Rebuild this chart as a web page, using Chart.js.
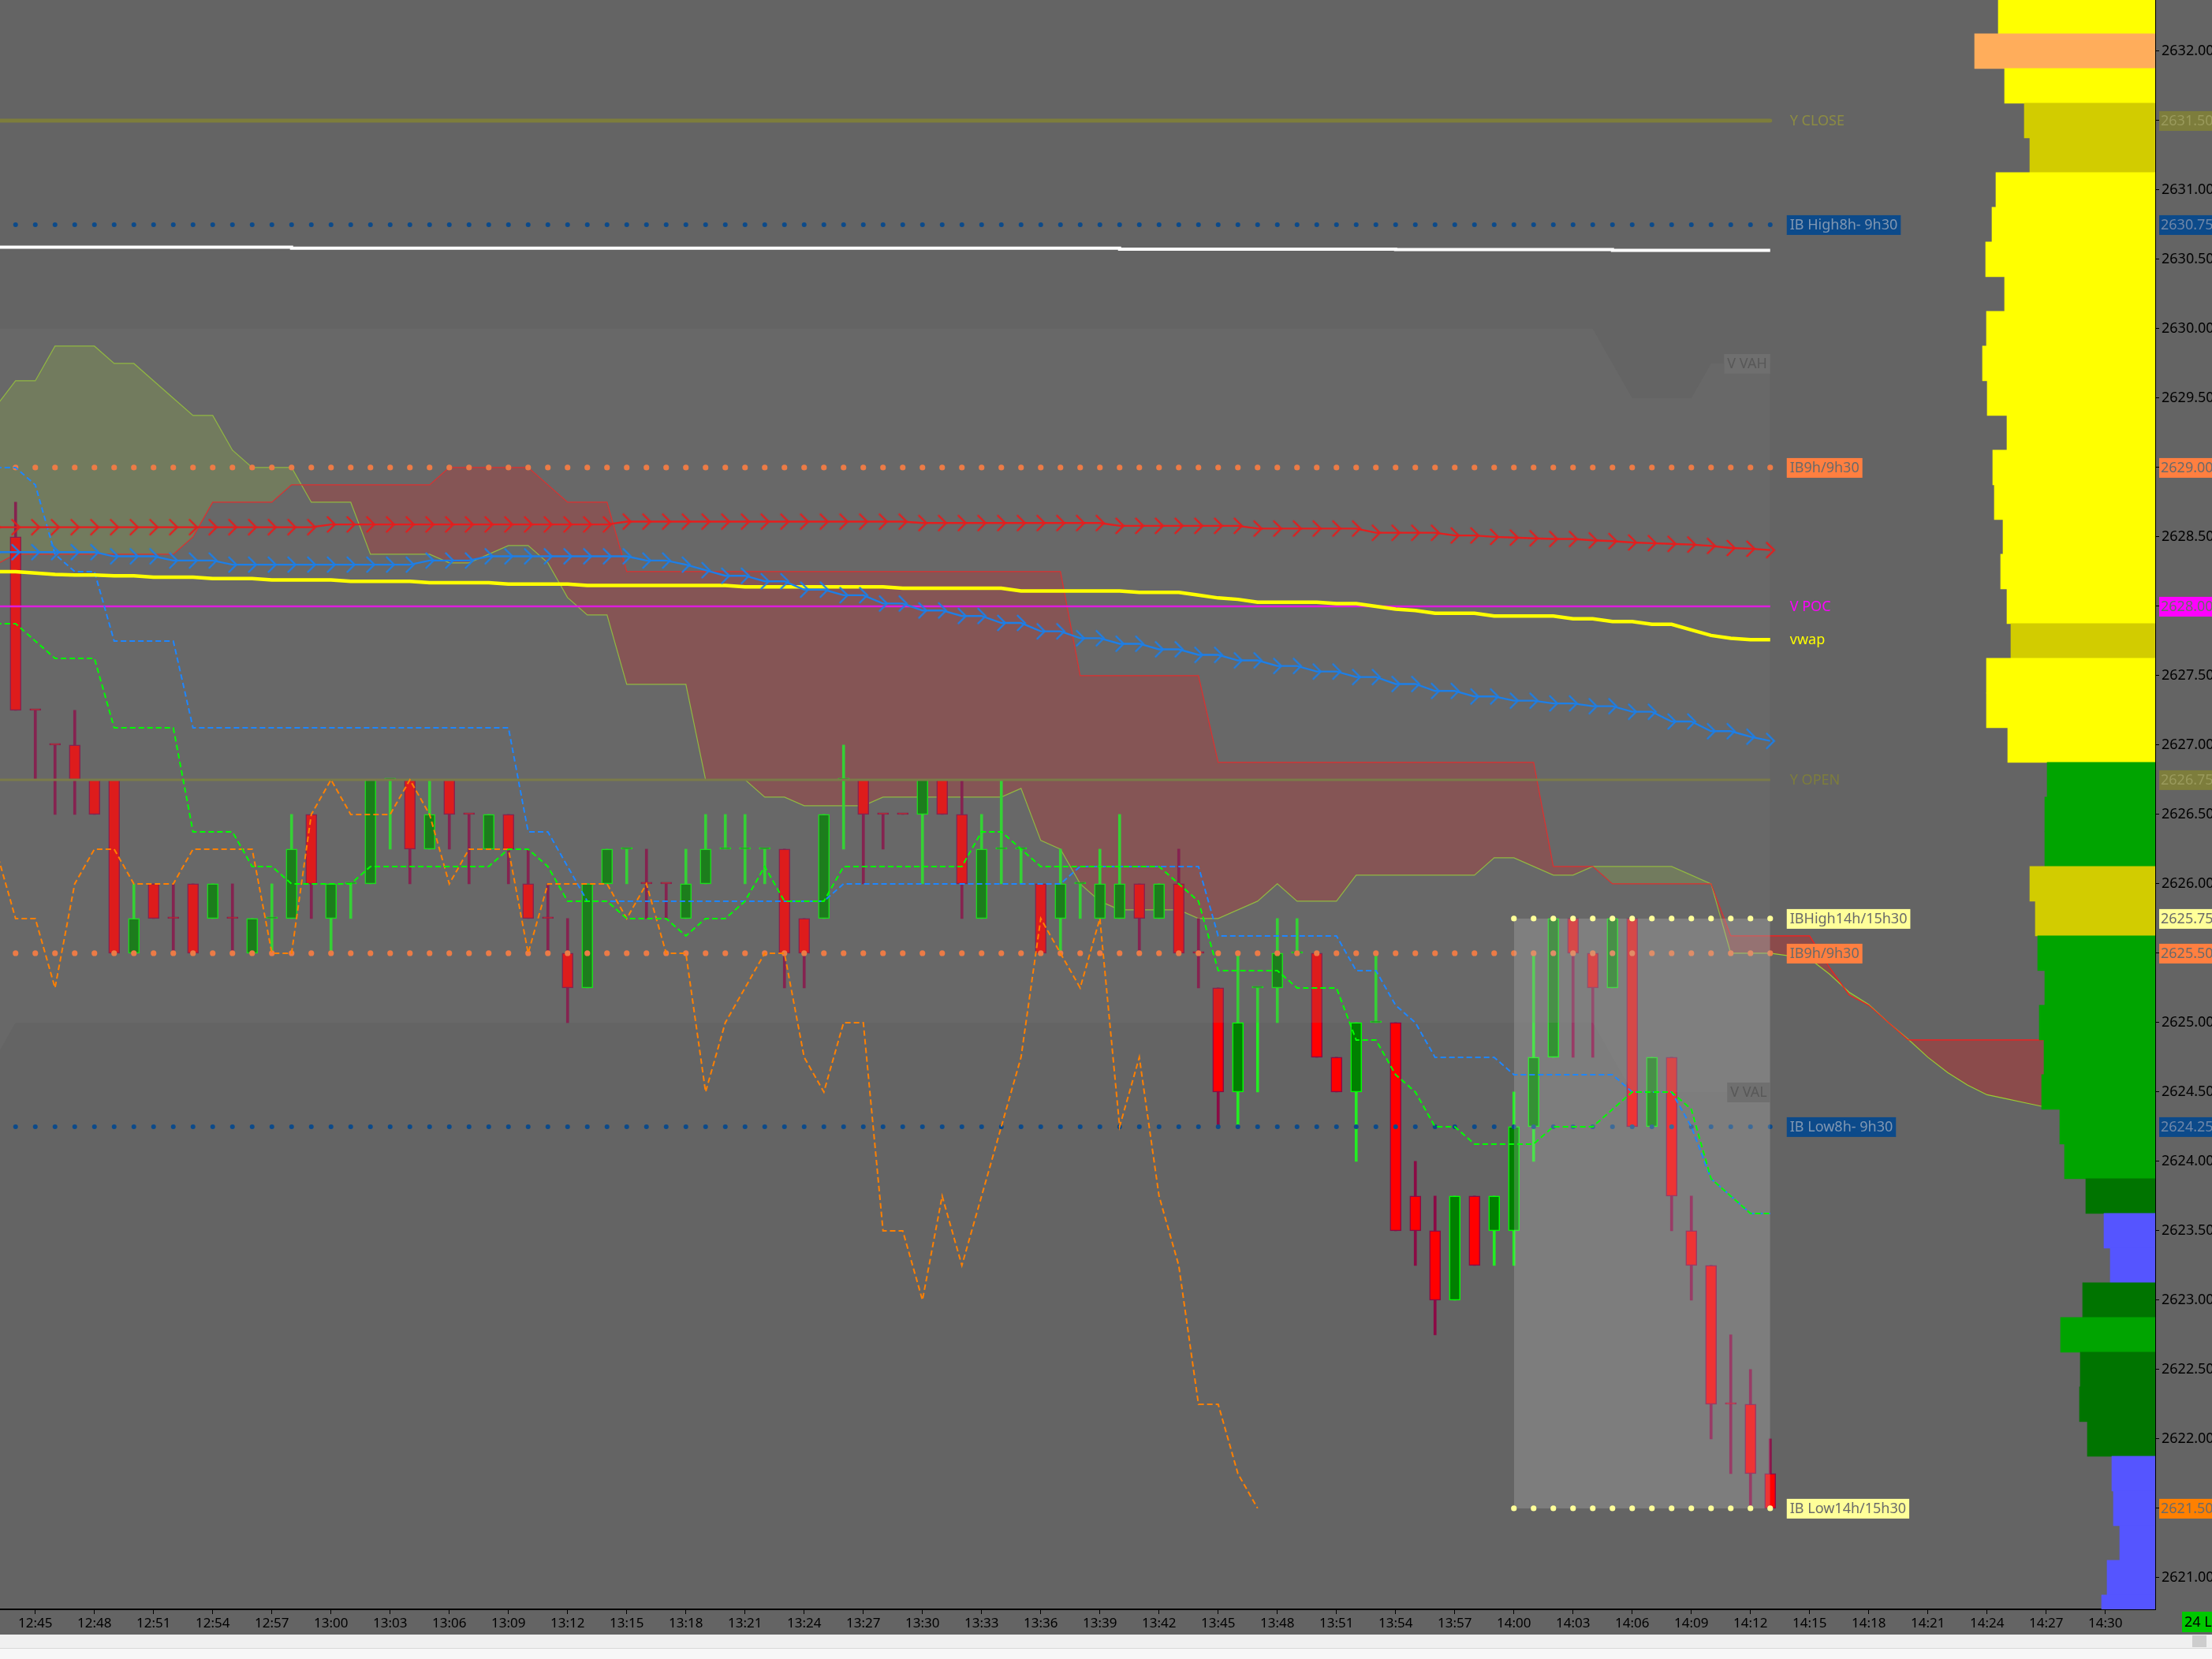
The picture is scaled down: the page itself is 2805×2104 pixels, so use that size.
<!DOCTYPE html>
<html>
<head>
<meta charset="utf-8">
<script src="https://cdn.jsdelivr.net/npm/chart.js@4.4.1/dist/chart.umd.min.js"></script>
<style>
  html, body { margin: 0; padding: 0; background: #f0f0f0; }
  #wrap { position: relative; width: 2805px; height: 2073px; background: #646464; }
  #wrap canvas { position: absolute; left: 0; top: 0; }
  #strip { position: relative; width: 2805px; height: 17px; background: #f0f0f0; border-bottom: 1px solid #d9d9d9; }
  #strip .knob { position: absolute; left: 2780px; top: 1px; width: 18px; height: 15px; background: #cdcdcd; }
  #foot { width: 2805px; height: 13px; background: #f7f7f7; }
</style>
</head>
<body>
<div id="wrap">
  <canvas id="main" width="2805" height="2073"></canvas>
  <canvas id="profile" width="2805" height="2073"></canvas>
</div>
<div id="strip"><div class="knob"></div></div>
<div id="foot"></div>
<script>
// 1-minute bars, bar 0 = 12:44, last bar 89 = 14:13
const START_MIN = 12 * 60 + 44;

const timeTicks = ['12:45', '12:48', '12:51', '12:54', '12:57', '13:00', '13:03', '13:06', '13:09', '13:12',
  '13:15', '13:18', '13:21', '13:24', '13:27', '13:30', '13:33', '13:36', '13:39', '13:42',
  '13:45', '13:48', '13:51', '13:54', '13:57', '14:00', '14:03', '14:06', '14:09', '14:12',
  '14:15', '14:18', '14:21', '14:24', '14:27', '14:30'];

const priceTicks = [2621.0, 2621.5, 2622.0, 2622.5, 2623.0, 2623.5, 2624.0, 2624.5, 2625.0, 2625.5, 2626.0,
  2626.5, 2627.0, 2627.5, 2628.0, 2628.5, 2629.0, 2629.5, 2630.0, 2630.5, 2631.0, 2631.5, 2632.0];

// candles
const opens = [
  2628.5, 2627.25, 2627.0, 2627.0, 2626.75, 2626.75, 2625.5, 2626.0, 2625.75, 2626.0,
  2625.75, 2625.75, 2625.5, 2625.75, 2625.75, 2626.5, 2625.75, 2626.0, 2626.0, 2626.75,
  2626.75, 2626.25, 2626.75, 2626.5, 2626.25, 2626.5, 2626.0, 2625.75, 2625.5, 2625.25,
  2626.0, 2626.25, 2626.0, 2626.0, 2625.75, 2626.0, 2626.25, 2626.25, 2626.25, 2626.25,
  2625.75, 2625.75, 2626.75, 2626.75, 2626.5, 2626.5, 2626.5, 2626.75, 2626.5, 2625.75,
  2626.25, 2626.25, 2626.0, 2625.75, 2626.0, 2625.75, 2625.75, 2626.0, 2625.75, 2626.0,
  2625.5, 2625.25, 2624.5, 2625.25, 2625.25, 2625.5, 2625.5, 2624.75, 2624.5, 2625.0,
  2625.0, 2623.75, 2623.5, 2623.0, 2623.75, 2623.5, 2623.5, 2624.25, 2624.75, 2625.75,
  2625.5, 2625.25, 2625.75, 2624.25, 2624.75, 2623.5, 2623.25, 2622.25, 2622.25, 2621.75
];
const highs = [
  2628.75, 2627.25, 2627.0, 2627.25, 2626.75, 2626.75, 2626.0, 2626.0, 2626.0, 2626.0,
  2626.0, 2626.0, 2625.75, 2626.0, 2626.5, 2626.5, 2626.0, 2626.0, 2626.75, 2626.75,
  2626.75, 2626.75, 2626.75, 2626.5, 2626.5, 2626.5, 2626.25, 2626.0, 2625.75, 2626.0,
  2626.25, 2626.25, 2626.25, 2626.0, 2626.25, 2626.5, 2626.5, 2626.5, 2626.25, 2626.25,
  2625.75, 2626.5, 2627.0, 2626.75, 2626.5, 2626.5, 2626.75, 2626.75, 2626.75, 2626.5,
  2626.75, 2626.25, 2626.0, 2626.25, 2626.0, 2626.25, 2626.5, 2626.0, 2626.0, 2626.25,
  2625.75, 2625.25, 2625.5, 2625.25, 2625.75, 2625.75, 2625.5, 2624.75, 2625.0, 2625.5,
  2625.0, 2624.0, 2623.75, 2623.75, 2623.75, 2623.75, 2624.5, 2625.5, 2625.75, 2625.75,
  2625.5, 2625.75, 2625.75, 2624.75, 2624.75, 2623.75, 2623.25, 2622.75, 2622.5, 2622.0
];
const lows = [
  2627.25, 2626.75, 2626.5, 2626.5, 2626.5, 2625.5, 2625.5, 2625.75, 2625.5, 2625.5,
  2625.75, 2625.5, 2625.5, 2625.5, 2625.75, 2625.75, 2625.5, 2625.75, 2626.0, 2626.25,
  2626.0, 2626.25, 2626.25, 2626.0, 2626.25, 2626.0, 2625.75, 2625.5, 2625.0, 2625.25,
  2626.0, 2626.0, 2625.75, 2625.75, 2625.75, 2626.0, 2626.25, 2626.0, 2626.0, 2625.25,
  2625.25, 2625.75, 2626.25, 2626.0, 2626.25, 2626.5, 2626.0, 2626.5, 2625.75, 2625.75,
  2626.0, 2626.0, 2625.5, 2625.5, 2625.75, 2625.75, 2625.75, 2625.5, 2625.75, 2625.5,
  2625.25, 2624.25, 2624.25, 2624.5, 2625.0, 2625.5, 2624.75, 2624.5, 2624.0, 2625.0,
  2623.5, 2623.25, 2622.75, 2623.0, 2623.25, 2623.25, 2623.25, 2624.0, 2624.75, 2624.75,
  2624.75, 2625.25, 2624.25, 2624.25, 2623.5, 2623.0, 2622.0, 2621.75, 2621.5, 2621.5
];
const closes = [
  2627.25, 2627.25, 2627.0, 2626.75, 2626.5, 2625.5, 2625.75, 2625.75, 2625.75, 2625.5,
  2626.0, 2625.75, 2625.75, 2625.75, 2626.25, 2626.0, 2626.0, 2626.0, 2626.75, 2626.75,
  2626.25, 2626.5, 2626.5, 2626.5, 2626.5, 2626.25, 2625.75, 2625.75, 2625.25, 2626.0,
  2626.25, 2626.25, 2626.0, 2626.0, 2626.0, 2626.25, 2626.25, 2626.25, 2626.25, 2625.5,
  2625.5, 2626.5, 2626.75, 2626.5, 2626.5, 2626.5, 2626.75, 2626.5, 2626.0, 2626.25,
  2626.25, 2626.25, 2625.5, 2626.0, 2626.0, 2626.0, 2626.0, 2625.75, 2626.0, 2625.5,
  2625.5, 2624.5, 2625.0, 2625.25, 2625.5, 2625.5, 2624.75, 2624.5, 2625.0, 2625.0,
  2623.5, 2623.5, 2623.0, 2623.75, 2623.25, 2623.75, 2624.25, 2624.75, 2625.75, 2625.5,
  2625.25, 2625.75, 2624.25, 2624.75, 2623.75, 2623.25, 2622.25, 2622.25, 2621.75, 2621.5
];

// indicator series, first value is bar -1 (left edge of the window)
const tenkan = [
  2627.875,
  2627.875, 2627.75, 2627.625, 2627.625, 2627.625, 2627.125, 2627.125, 2627.125, 2627.125, 2626.375,
  2626.375, 2626.375, 2626.125, 2626.125, 2626.0, 2626.0, 2626.0, 2626.0, 2626.125, 2626.125,
  2626.125, 2626.125, 2626.125, 2626.125, 2626.125, 2626.25, 2626.25, 2626.125, 2625.875, 2625.875,
  2625.875, 2625.75, 2625.75, 2625.75, 2625.625, 2625.75, 2625.75, 2625.875, 2626.125, 2625.875,
  2625.875, 2625.875, 2626.125, 2626.125, 2626.125, 2626.125, 2626.125, 2626.125, 2626.125, 2626.375,
  2626.375, 2626.25, 2626.125, 2626.125, 2626.125, 2626.125, 2626.125, 2626.125, 2626.125, 2626.0,
  2625.875, 2625.375, 2625.375, 2625.375, 2625.375, 2625.25, 2625.25, 2625.25, 2624.875, 2624.875,
  2624.625, 2624.5, 2624.25, 2624.25, 2624.125, 2624.125, 2624.125, 2624.125, 2624.25, 2624.25,
  2624.25, 2624.375, 2624.5, 2624.5, 2624.5, 2624.375, 2623.875, 2623.75, 2623.625, 2623.625
];
const kijun = [
  2629.0,
  2629.0, 2628.875, 2628.375, 2628.25, 2628.25, 2627.75, 2627.75, 2627.75, 2627.75, 2627.125,
  2627.125, 2627.125, 2627.125, 2627.125, 2627.125, 2627.125, 2627.125, 2627.125, 2627.125, 2627.125,
  2627.125, 2627.125, 2627.125, 2627.125, 2627.125, 2627.125, 2626.375, 2626.375, 2626.125, 2625.875,
  2625.875, 2625.875, 2625.875, 2625.875, 2625.875, 2625.875, 2625.875, 2625.875, 2625.875, 2625.875,
  2625.875, 2625.875, 2626.0, 2626.0, 2626.0, 2626.0, 2626.0, 2626.0, 2626.0, 2626.0,
  2626.0, 2626.0, 2626.0, 2626.0, 2626.125, 2626.125, 2626.125, 2626.125, 2626.125, 2626.125,
  2626.125, 2625.625, 2625.625, 2625.625, 2625.625, 2625.625, 2625.625, 2625.625, 2625.375, 2625.375,
  2625.125, 2625.0, 2624.75, 2624.75, 2624.75, 2624.75, 2624.625, 2624.625, 2624.625, 2624.625,
  2624.625, 2624.625, 2624.5, 2624.5, 2624.5, 2624.25, 2623.875, 2623.75, 2623.625, 2623.625
];
// cloud, bar -1 .. bar 103 (projected 26 bars ahead)
const spanA = [
  2629.44,
  2629.625, 2629.625, 2629.875, 2629.875, 2629.875, 2629.75, 2629.75, 2629.625, 2629.5, 2629.375,
  2629.375, 2629.125, 2629.0, 2629.0, 2629.0, 2628.75, 2628.75, 2628.75, 2628.375, 2628.375,
  2628.375, 2628.375, 2628.3125, 2628.3125, 2628.375, 2628.4375, 2628.4375, 2628.3125, 2628.0625, 2627.9375,
  2627.9375, 2627.4375, 2627.4375, 2627.4375, 2627.4375, 2626.75, 2626.75, 2626.75, 2626.625, 2626.625,
  2626.5625, 2626.5625, 2626.5625, 2626.5625, 2626.625, 2626.625, 2626.625, 2626.625, 2626.625, 2626.625,
  2626.625, 2626.6875, 2626.3125, 2626.25, 2626.0, 2625.875, 2625.8125, 2625.8125, 2625.8125, 2625.8125,
  2625.75, 2625.75, 2625.8125, 2625.875, 2626.0, 2625.875, 2625.875, 2625.875, 2626.0625, 2626.0625,
  2626.0625, 2626.0625, 2626.0625, 2626.0625, 2626.0625, 2626.1875, 2626.1875, 2626.125, 2626.0625, 2626.0625,
  2626.125, 2626.125, 2626.125, 2626.125, 2626.125, 2626.0625, 2626.0, 2625.5, 2625.5, 2625.5,
  2625.48, 2625.46, 2625.35, 2625.22, 2625.13, 2625.0, 2624.88, 2624.75, 2624.64, 2624.55,
  2624.48, 2624.45, 2624.42, 2624.39
];
const spanB = [
  2628.3,
  2628.375, 2628.375, 2628.375, 2628.375, 2628.375, 2628.375, 2628.375, 2628.375, 2628.375, 2628.5,
  2628.75, 2628.75, 2628.75, 2628.75, 2628.875, 2628.875, 2628.875, 2628.875, 2628.875, 2628.875,
  2628.875, 2628.875, 2629.0, 2629.0, 2629.0, 2629.0, 2629.0, 2628.875, 2628.75, 2628.75,
  2628.75, 2628.25, 2628.25, 2628.25, 2628.25, 2628.25, 2628.25, 2628.25, 2628.25, 2628.25,
  2628.25, 2628.25, 2628.25, 2628.25, 2628.25, 2628.25, 2628.25, 2628.25, 2628.25, 2628.25,
  2628.25, 2628.25, 2628.25, 2628.25, 2627.5, 2627.5, 2627.5, 2627.5, 2627.5, 2627.5,
  2627.5, 2626.875, 2626.875, 2626.875, 2626.875, 2626.875, 2626.875, 2626.875, 2626.875, 2626.875,
  2626.875, 2626.875, 2626.875, 2626.875, 2626.875, 2626.875, 2626.875, 2626.875, 2626.125, 2626.125,
  2626.125, 2626.0, 2626.0, 2626.0, 2626.0, 2626.0, 2626.0, 2625.625, 2625.625, 2625.625,
  2625.625, 2625.625, 2625.4, 2625.2, 2625.125, 2625.0, 2624.875, 2624.875, 2624.875, 2624.875,
  2624.875, 2624.875, 2624.875, 2624.875
];
const vwap = [
  2628.25,
  2628.25, 2628.24, 2628.23, 2628.225, 2628.225, 2628.22, 2628.22, 2628.21, 2628.21, 2628.21,
  2628.20, 2628.20, 2628.20, 2628.19, 2628.19, 2628.19, 2628.19, 2628.18, 2628.18, 2628.18,
  2628.18, 2628.17, 2628.17, 2628.17, 2628.17, 2628.16, 2628.16, 2628.16, 2628.16, 2628.15,
  2628.15, 2628.15, 2628.15, 2628.15, 2628.15, 2628.15, 2628.15, 2628.14, 2628.14, 2628.14,
  2628.14, 2628.14, 2628.14, 2628.14, 2628.14, 2628.13, 2628.13, 2628.13, 2628.13, 2628.13,
  2628.13, 2628.11, 2628.11, 2628.11, 2628.11, 2628.11, 2628.11, 2628.10, 2628.10, 2628.10,
  2628.08, 2628.06, 2628.05, 2628.03, 2628.03, 2628.03, 2628.03, 2628.02, 2628.02, 2628.00,
  2627.98, 2627.97, 2627.95, 2627.95, 2627.95, 2627.93, 2627.93, 2627.93, 2627.93, 2627.91,
  2627.91, 2627.89, 2627.89, 2627.87, 2627.87, 2627.83, 2627.79, 2627.77, 2627.76, 2627.76
];
const redAverage = [
  2628.57,
  2628.57, 2628.57, 2628.57, 2628.57, 2628.57, 2628.57, 2628.57, 2628.57, 2628.57, 2628.57,
  2628.57, 2628.57, 2628.57, 2628.57, 2628.57, 2628.57, 2628.59, 2628.59, 2628.59, 2628.59,
  2628.59, 2628.59, 2628.59, 2628.59, 2628.59, 2628.59, 2628.59, 2628.59, 2628.59, 2628.59,
  2628.59, 2628.61, 2628.61, 2628.61, 2628.61, 2628.61, 2628.61, 2628.61, 2628.61, 2628.61,
  2628.61, 2628.61, 2628.61, 2628.61, 2628.61, 2628.61, 2628.60, 2628.60, 2628.60, 2628.60,
  2628.60, 2628.60, 2628.60, 2628.60, 2628.60, 2628.60, 2628.58, 2628.58, 2628.58, 2628.58,
  2628.58, 2628.58, 2628.58, 2628.56, 2628.56, 2628.56, 2628.56, 2628.56, 2628.56, 2628.53,
  2628.53, 2628.53, 2628.53, 2628.51, 2628.51, 2628.50, 2628.495, 2628.49, 2628.485, 2628.485,
  2628.475, 2628.47, 2628.46, 2628.455, 2628.45, 2628.445, 2628.435, 2628.42, 2628.415, 2628.405
];
const blueAverage = [
  2628.39,
  2628.39, 2628.39, 2628.39, 2628.39, 2628.39, 2628.36, 2628.36, 2628.36, 2628.33, 2628.33,
  2628.33, 2628.30, 2628.30, 2628.30, 2628.30, 2628.30, 2628.30, 2628.30, 2628.30, 2628.30,
  2628.30, 2628.33, 2628.33, 2628.33, 2628.36, 2628.36, 2628.36, 2628.36, 2628.36, 2628.36,
  2628.36, 2628.36, 2628.33, 2628.33, 2628.30, 2628.26, 2628.22, 2628.22, 2628.18, 2628.18,
  2628.12, 2628.12, 2628.08, 2628.08, 2628.02, 2628.02, 2627.97, 2627.97, 2627.93, 2627.93,
  2627.88, 2627.88, 2627.82, 2627.82, 2627.77, 2627.77, 2627.73, 2627.73, 2627.69, 2627.69,
  2627.65, 2627.65, 2627.61, 2627.61, 2627.57, 2627.57, 2627.53, 2627.53, 2627.49, 2627.49,
  2627.44, 2627.44, 2627.39, 2627.39, 2627.35, 2627.35, 2627.32, 2627.32, 2627.30, 2627.30,
  2627.28, 2627.28, 2627.24, 2627.24, 2627.17, 2627.17, 2627.10, 2627.10, 2627.06, 2627.03
];
const whiteBars = [-1, 14, 56, 70, 81, 88, 89];
const whiteLevel = [2630.593, 2630.587, 2630.58, 2630.574, 2630.57, 2630.565, 2630.565];

// value area of the volume profile
const vaBars = [-1, 0, 80, 82, 85, 86, 89];
const vaHigh = [2630.0, 2630.0, 2630.0, 2629.5, 2629.5, 2629.75, 2629.75];
const vaLow = [2624.75, 2625.0, 2625.0, 2624.5, 2624.5, 2624.5, 2624.5];

// reference levels
const Y_CLOSE = 2631.5, Y_OPEN = 2626.75, V_POC = 2628.0;
const IB8_HIGH = 2630.75, IB8_LOW = 2624.25;
const IB9_HIGH = 2629.0, IB9_LOW = 2625.5;
const IB14_HIGH = 2625.75, IB14_LOW = 2621.5;
const IB14_FROM = 76, LAST_BAR = 89;

// volume profile (relative volume per 0.25 tick)
const profilePrices = [2632.25, 2632.0, 2631.75, 2631.5, 2631.25, 2631.0, 2630.75, 2630.5, 2630.25, 2630.0,
  2629.75, 2629.5, 2629.25, 2629.0, 2628.75, 2628.5, 2628.25, 2628.0, 2627.75, 2627.5,
  2627.25, 2627.0, 2626.75, 2626.5, 2626.25, 2626.0, 2625.75, 2625.5, 2625.25, 2625.0,
  2624.75, 2624.5, 2624.25, 2624.0, 2623.75, 2623.5, 2623.25, 2623.0, 2622.75, 2622.5,
  2622.25, 2622.0, 2621.75, 2621.5, 2621.25, 2621.0, 2620.75];
const profileVolume = [199, 229, 191, 166, 159, 202, 207, 215, 191, 214,
  219, 213, 188, 206, 204, 193, 196, 188, 183, 214,
  214, 187, 137, 140, 140, 159, 152, 149, 140, 147,
  141, 144, 121, 115, 88, 65, 57, 92, 120, 95,
  96, 86, 55, 53, 45, 61, 68];
const profileKind = 'YOYVVYYYYYYYYYYYYYVYYYGGGVVGGGGGGGDBBDGDDDBBBBB'.split('');

const X_MIN = -0.79, X_MAX = 108.53;
const Y_MIN = 2620.772, Y_MAX = 2632.369;
const PROFILE_SPAN = 2733;

Chart.defaults.font.family = '"Noto Sans", "DejaVu Sans", sans-serif';

const pts = (arr, start) => arr.map((y, i) => ({ x: start + i, y: y }));
const zip = (xs, ys) => xs.map((x, i) => ({ x: x, y: ys[i] }));
const flat = (level) => [{ x: -1, y: level }, { x: LAST_BAR, y: level }];
const dots = (level, from) => {
  const out = [];
  for (let i = from; i <= LAST_BAR; i++) out.push({ x: i, y: level });
  return out;
};
const barOfTime = (t) => {
  const [h, m] = t.split(':').map(Number);
  return h * 60 + m - START_MIN;
};

// candle colour: body direction, dojis follow the tick versus the previous close
const up = [];
closes.forEach((c, i) => {
  if (c > opens[i]) up.push(true);
  else if (c < opens[i]) up.push(false);
  else if (i > 0 && c > closes[i - 1]) up.push(true);
  else if (i > 0 && c < closes[i - 1]) up.push(false);
  else up.push(i > 0 ? up[i - 1] : false);
});

function chevron(color) {
  const c = document.createElement('canvas');
  c.width = 14; c.height = 24;
  const g = c.getContext('2d');
  g.strokeStyle = color;
  g.lineWidth = 2.4;
  g.beginPath();
  g.moveTo(2, 2); g.lineTo(12, 12); g.lineTo(2, 22);
  g.stroke();
  return c;
}

const sideTags = [
  { price: Y_CLOSE, text: 'Y CLOSE', color: '#8c8c42' },
  { price: IB8_HIGH, text: 'IB High8h- 9h30', color: '#8197b2', bg: '#0c4a8a' },
  { price: vaHigh[vaHigh.length - 1], text: 'V VAH', color: '#585858', bg: '#6f6f6f', right: true },
  { price: IB9_HIGH, text: 'IB9h/9h30', color: '#6a6a6a', bg: '#ff7f40' },
  { price: V_POC, text: 'V POC', color: '#ff00ff' },
  { price: vwap[vwap.length - 1], text: 'vwap', color: '#ffff00' },
  { price: Y_OPEN, text: 'Y OPEN', color: '#7d7d3c' },
  { price: IB14_HIGH, text: 'IBHigh14h/15h30', color: '#6a6a6a', bg: '#ffff99' },
  { price: IB9_LOW, text: 'IB9h/9h30', color: '#6a6a6a', bg: '#ff7f40' },
  { price: vaLow[vaLow.length - 1], text: 'V VAL', color: '#585858', bg: '#6f6f6f', right: true },
  { price: IB8_LOW, text: 'IB Low8h- 9h30', color: '#8197b2', bg: '#0c4a8a' },
  { price: IB14_LOW, text: 'IB Low14h/15h30', color: '#6a6a6a', bg: '#ffff99' }
];
const axisTags = [
  { price: Y_CLOSE, bg: '#7d7d3c', color: '#9a9a5c' },
  { price: IB8_HIGH, bg: '#0c4a8a', color: '#6f87a8' },
  { price: IB9_HIGH, bg: '#ff7f40', color: '#6a6a6a' },
  { price: V_POC, bg: '#ff00ff', color: '#6a6a6a' },
  { price: Y_OPEN, bg: '#7d7d3c', color: '#9a9a5c' },
  { price: IB14_HIGH, bg: '#ffff99', color: '#6a6a6a' },
  { price: IB9_LOW, bg: '#ff7f40', color: '#6a6a6a' },
  { price: IB8_LOW, bg: '#0c4a8a', color: '#6f87a8' },
  { price: closes[closes.length - 1], bg: '#ff8000', color: '#6a6a6a' }
];

const levelTags = {
  id: 'levelTags',
  afterDraw(chart) {
    const { ctx, chartArea } = chart;
    const x = chart.scales.x, y = chart.scales.y;
    const lastPx = x.getPixelForValue(LAST_BAR);
    ctx.save();
    ctx.font = '18px "Noto Sans"';
    ctx.textBaseline = 'middle';
    sideTags.forEach(t => {
      const py = y.getPixelForValue(t.price);
      const w = ctx.measureText(t.text).width + 8;
      const bx = t.right ? lastPx - w : lastPx + 21;
      if (t.bg) {
        ctx.fillStyle = t.bg;
        ctx.fillRect(bx, py - 12, w, 25);
      }
      ctx.fillStyle = t.color;
      ctx.fillText(t.text, bx + 4, py + 1);
    });
    const ax = chartArea.right + 5;
    axisTags.forEach(t => {
      const py = y.getPixelForValue(t.price);
      ctx.fillStyle = t.bg;
      ctx.fillRect(ax, py - 12, chart.width - ax, 25);
      ctx.fillStyle = t.color;
      ctx.fillText(t.price.toFixed(2), ax + 2, py + 1);
    });
    // position size box
    ctx.fillStyle = '#00c800';
    ctx.fillRect(chart.width - 38, chartArea.bottom + 3, 38, 26);
    ctx.fillStyle = '#000';
    ctx.fillText('24 L', chart.width - 35, chartArea.bottom + 17);
    ctx.restore();
  }
};

const lineBase = { type: 'line', pointRadius: 0, fill: false, tension: 0 };

new Chart(document.getElementById('main'), {
  type: 'bar',
  data: {
    datasets: [
      { ...lineBase, label: 'Senkou A', data: pts(spanA, -1), borderColor: '#9acd32', borderWidth: 1.2,
        fill: { target: '+1', above: 'rgba(154,205,50,0.25)', below: 'rgba(255,0,0,0.25)' }, order: 100 },
      { ...lineBase, label: 'Senkou B', data: pts(spanB, -1), borderColor: '#ff1a1a', borderWidth: 1.2, order: 99 },
      { ...lineBase, label: 'Avg', data: zip(whiteBars, whiteLevel), stepped: 'after', borderColor: '#ffffff', borderWidth: 4, order: 96 },
      { ...lineBase, label: 'Y CLOSE', data: flat(Y_CLOSE), borderColor: '#7d7d3c', borderWidth: 5, borderCapStyle: 'round', order: 96 },
      { type: 'bar', label: 'wicks', data: lows.map((l, i) => ({ x: i, y: [l, highs[i]] })),
        backgroundColor: up.map(u => u ? '#22ee22' : '#8b0a45'), barThickness: 3, grouped: false, order: 92 },
      { type: 'bar', label: 'bodies', data: opens.map((o, i) => ({ x: i, y: [o, closes[i]] })),
        backgroundColor: up.map(u => u ? '#008000' : '#ff0000'),
        borderColor: up.map(u => u ? '#00ff00' : '#8b0a45'),
        borderWidth: 1.5, borderSkipped: false, barThickness: 14, minBarLength: 2, grouped: false, order: 91 },
      { ...lineBase, label: 'Y OPEN', data: flat(Y_OPEN), borderColor: '#7d7d3c', borderWidth: 3, order: 90 },
      { ...lineBase, label: 'V POC', data: flat(V_POC), borderColor: '#ff00ff', borderWidth: 2.5, order: 90 },
      { ...lineBase, label: 'VAH', data: zip(vaBars, vaHigh), borderWidth: 0, borderColor: 'transparent',
        fill: '+1', backgroundColor: 'rgba(115,115,115,0.24)', order: 85 },
      { ...lineBase, label: 'VAL', data: zip(vaBars, vaLow), borderWidth: 0, borderColor: 'transparent', order: 84 },
      { ...lineBase, label: 'IB High8h', data: dots(IB8_HIGH, 0), showLine: false, pointRadius: 3, pointBorderWidth: 0, pointBackgroundColor: '#0c4a8a', order: 80 },
      { ...lineBase, label: 'IB Low8h', data: dots(IB8_LOW, 0), showLine: false, pointRadius: 3, pointBorderWidth: 0, pointBackgroundColor: '#0c4a8a', order: 80 },
      { ...lineBase, label: 'IB9h high', data: dots(IB9_HIGH, 0), showLine: false, pointRadius: 3.6, pointBorderWidth: 0, pointBackgroundColor: '#ec7b46', order: 80 },
      { ...lineBase, label: 'IB9h low', data: dots(IB9_LOW, 0), showLine: false, pointRadius: 3.6, pointBorderWidth: 0, pointBackgroundColor: '#ec7b46', order: 80 },
      { ...lineBase, label: 'IB14 top', data: [{ x: IB14_FROM, y: IB14_HIGH }, { x: LAST_BAR, y: IB14_HIGH }], borderWidth: 0,
        borderColor: 'transparent', fill: '+1', backgroundColor: 'rgba(191,191,191,0.27)', order: 78 },
      { ...lineBase, label: 'IB14 bottom', data: [{ x: IB14_FROM, y: IB14_LOW }, { x: LAST_BAR, y: IB14_LOW }], borderWidth: 0,
        borderColor: 'transparent', order: 77 },
      { ...lineBase, label: 'IB14 high', data: dots(IB14_HIGH, IB14_FROM), showLine: false, pointRadius: 3.6, pointBorderWidth: 0, pointBackgroundColor: '#ffff99', order: 76 },
      { ...lineBase, label: 'IB14 low', data: dots(IB14_LOW, IB14_FROM), showLine: false, pointRadius: 3.6, pointBorderWidth: 0, pointBackgroundColor: '#ffff99', order: 76 },
      // lagging span: closes shifted back 26 bars
      { ...lineBase, label: 'Chikou', data: closes.map((c, i) => ({ x: i - 26, y: c })), borderColor: '#ff8000', borderWidth: 2, borderDash: [7, 4], order: 70 },
      { ...lineBase, label: 'Kijun', data: pts(kijun, -1), borderColor: '#1e86ff', borderWidth: 2, borderDash: [7, 4], order: 69 },
      { ...lineBase, label: 'Tenkan', data: pts(tenkan, -1), borderColor: '#00ff00', borderWidth: 2, borderDash: [7, 4], order: 68 },
      { ...lineBase, label: 'vwap', data: pts(vwap, -1), borderColor: '#ffff00', borderWidth: 4.5, order: 60 },
      { ...lineBase, label: 'red avg', data: pts(redAverage, -1), borderColor: '#e41e1e', borderWidth: 2.4,
        pointRadius: 5, pointStyle: chevron('#e41e1e'), order: 59 },
      { ...lineBase, label: 'blue avg', data: pts(blueAverage, -1), borderColor: '#1e7fe6', borderWidth: 2.4,
        pointRadius: 5, pointStyle: chevron('#1e7fe6'), order: 58 }
    ]
  },
  options: {
    responsive: false,
    animation: false,
    events: [],
    layout: { padding: 0, autoPadding: false },
    plugins: { legend: { display: false }, tooltip: { enabled: false } },
    scales: {
      x: {
        type: 'linear', min: X_MIN, max: X_MAX, offset: false,
        grid: { offset: false, drawOnChartArea: false, drawTicks: true, tickLength: 6, color: '#000' },
        border: { display: true, color: '#000', width: 2 },
        afterBuildTicks(s) { s.ticks = timeTicks.map(t => ({ value: barOfTime(t) })); },
        afterFit(s) { s.height = 32; s.paddingLeft = 0; s.paddingRight = 0; },
        ticks: { autoSkip: false, maxRotation: 0, padding: 2, color: '#000', font: { size: 17 },
          callback: (v, i) => timeTicks[i] }
      },
      y: {
        type: 'linear', position: 'right', min: Y_MIN, max: Y_MAX, beginAtZero: false,
        grid: { drawOnChartArea: false, drawTicks: true, tickLength: 5, color: '#000' },
        border: { display: true, color: '#000', width: 2 },
        afterBuildTicks(s) { s.ticks = priceTicks.map(v => ({ value: v })); },
        afterFit(s) { s.width = 72; s.paddingTop = 0; s.paddingBottom = 0; },
        ticks: { padding: 3, color: '#000', font: { size: 18 }, callback: v => v.toFixed(2) }
      }
    }
  },
  plugins: [levelTags]
});

const profilePalette = { Y: '#ffff00', O: '#ffad5b', V: '#d2cc00', G: '#00a400', D: '#007400', B: '#5555ff' };

new Chart(document.getElementById('profile'), {
  type: 'bar',
  data: {
    datasets: [{
      label: 'Volume profile',
      data: profilePrices.map((p, i) => ({ x: profileVolume[i], y: p })),
      backgroundColor: profileKind.map(k => profilePalette[k]),
      borderWidth: 0,
      barPercentage: 1,
      categoryPercentage: 1
    }]
  },
  options: {
    indexAxis: 'y',
    responsive: false,
    animation: false,
    events: [],
    layout: { padding: { left: 0, right: 72, top: 0, bottom: 32 }, autoPadding: false },
    plugins: { legend: { display: false }, tooltip: { enabled: false } },
    scales: {
      y: { type: 'linear', min: Y_MIN, max: Y_MAX, offset: false, display: false },
      x: { type: 'linear', min: 0, max: PROFILE_SPAN, reverse: true, display: false }
    }
  }
});
</script>
</body>
</html>
